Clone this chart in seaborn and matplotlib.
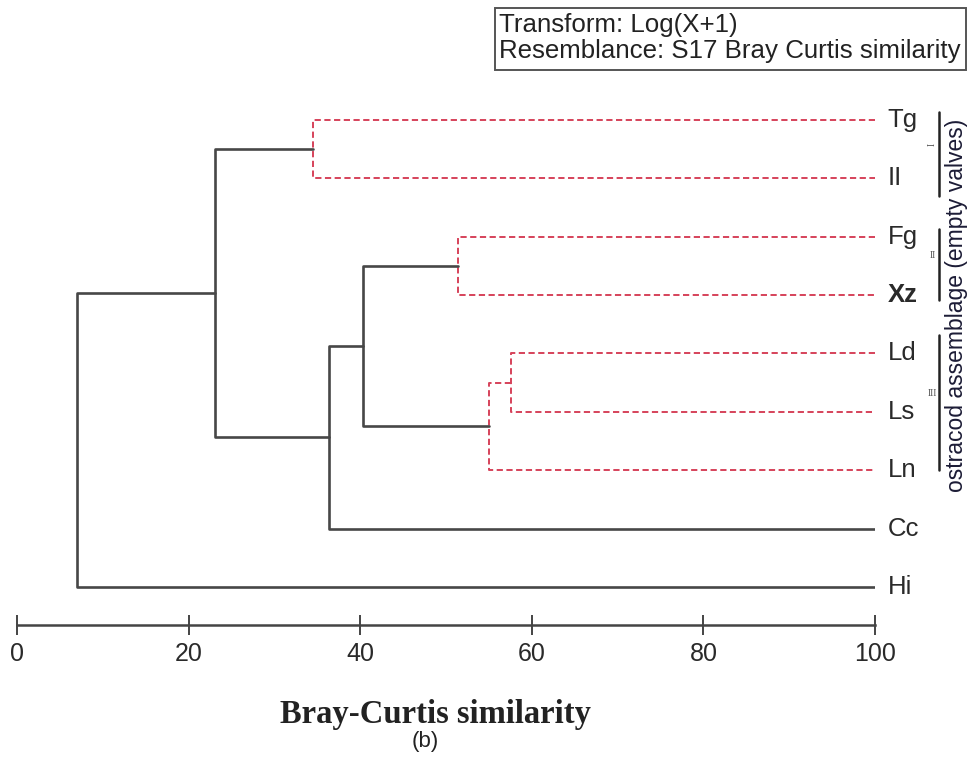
import pandas as pd
import seaborn as sns
import matplotlib.pyplot as plt
from matplotlib.patches import Rectangle

# leaves, top to bottom
leaves = ["Tg", "Il", "Fg", "Xz", "Ld", "Ls", "Ln", "Cc", "Hi"]
leaf_text = ["Tg", "II", "Fg", "Xz", "Ld", "Ls", "Ln", "Cc", "Hi"]

# merges: node ids (0-8 leaves, 9+ merges in order), Bray-Curtis similarity
merge_left = [0, 2, 4, 11, 10, 13, 9, 15]
merge_right = [1, 3, 5, 6, 12, 7, 14, 8]
merge_sim = [34.5, 51.4, 57.6, 55.0, 40.3, 36.4, 23.1, 7.0]
merge_kind = ["dashed", "dashed", "dashed", "dashed", "solid", "solid", "solid", "solid"]

# groups on the right
group_names = ["I", "II", "III"]
group_top = [-0.14, 1.87, 3.68]
group_bottom = [1.30, 3.08, 6.00]

xticks = [0, 20, 40, 60, 80, 100]

sns.set_theme(style="white")
plt.rcParams["font.family"] = ["Liberation Sans", "DejaVu Sans"]
plt.rcParams["lines.solid_joinstyle"] = "round"
plt.rcParams["lines.dash_joinstyle"] = "round"
plt.rcParams["lines.solid_capstyle"] = "round"

# build the dendrogram segments
node_x = {i: 100.0 for i in range(len(leaves))}
node_y = {i: float(i) for i in range(len(leaves))}
rows = []
for k, (a, b, s, kind) in enumerate(zip(merge_left, merge_right, merge_sim, merge_kind)):
    nid = len(leaves) + k
    pts = [(node_x[a], node_y[a]), (s, node_y[a]), (s, node_y[b]), (node_x[b], node_y[b])]
    for order, (px, py) in enumerate(pts):
        rows.append({"seg": nid, "order": order, "x": px, "y": py, "kind": kind})
    node_x[nid] = s
    node_y[nid] = (node_y[a] + node_y[b]) / 2
segs = pd.DataFrame(rows)

fig = plt.figure(figsize=(9.68, 7.58), dpi=100)
ax = fig.add_axes([17 / 968, (758 - 625) / 758, 858 / 968, 545 / 758])

sns.lineplot(data=segs, x="x", y="y", units="seg", hue="kind", style="kind",
             estimator=None, sort=False, ax=ax, legend=False,
             palette={"solid": "#474747", "dashed": "#d6425a"},
             dashes={"solid": "", "dashed": (3.2, 1.8)},
             size="kind", sizes={"solid": 1.9, "dashed": 1.4})

ax.set_xlim(0, 100)
ax.set_ylim(8.65, -0.68)
ax.set_yticks([])
ax.set_xticks(xticks)
ax.set_xticklabels([str(t) for t in xticks], fontsize=18, color="#2a2a2a")
ax.tick_params(axis="x", bottom=True, direction="inout", length=15, width=1.4,
               color="#444444", pad=5)
ax.set_xlabel("")
ax.set_ylabel("")
for side in ["left", "top", "right"]:
    ax.spines[side].set_visible(False)
ax.spines["bottom"].set_color("#444444")
ax.spines["bottom"].set_linewidth(1.8)

# leaf labels
for i, lab in enumerate(leaf_text):
    ax.text(101.5, i, lab, ha="left", va="center", fontsize=18.5, color="#2a2a2a",
            fontweight="bold" if lab == "Xz" else "normal", clip_on=False)

# group brackets
for name, top, bot in zip(group_names, group_top, group_bottom):
    ax.plot([107.5, 107.5], [top, bot], color="#222222", lw=1.8, clip_on=False)
    mid = (top + bot) / 2
    ax.text(106.7, mid - 0.15, name, ha="center", va="center", fontsize=7, color="#555555",
            rotation=90 if name == "I" else 0, family="Liberation Serif", clip_on=False)

ax.text(109.5, 3.17, "ostracod assemblage (empty valves)", rotation=90, ha="center",
        va="center", fontsize=16.5, color="#1c1c36", clip_on=False)

# info box
fig.add_artist(Rectangle((495 / 968, 1 - 70 / 758), (966 - 495) / 968, 62 / 758,
                         transform=fig.transFigure, fill=False, ec="#555555", lw=1.4))
fig.text(499 / 968, 1 - 25 / 758, "Transform: Log(X+1)", va="center", ha="left",
         fontsize=18.6, color="#222222")
fig.text(499 / 968, 1 - 51 / 758, "Resemblance: S17 Bray Curtis similarity", va="center",
         ha="left", fontsize=18.6, color="#222222")

fig.text(436 / 968, 1 - 715 / 758, "Bray-Curtis similarity", ha="center", va="center",
         fontsize=23.5, fontweight="bold", family="Liberation Serif", color="#222222")
fig.text(425 / 968, 1 - 742 / 758, "(b)", ha="center", va="center", fontsize=16,
         color="#222222")

fig.savefig("out.png", dpi=100)
